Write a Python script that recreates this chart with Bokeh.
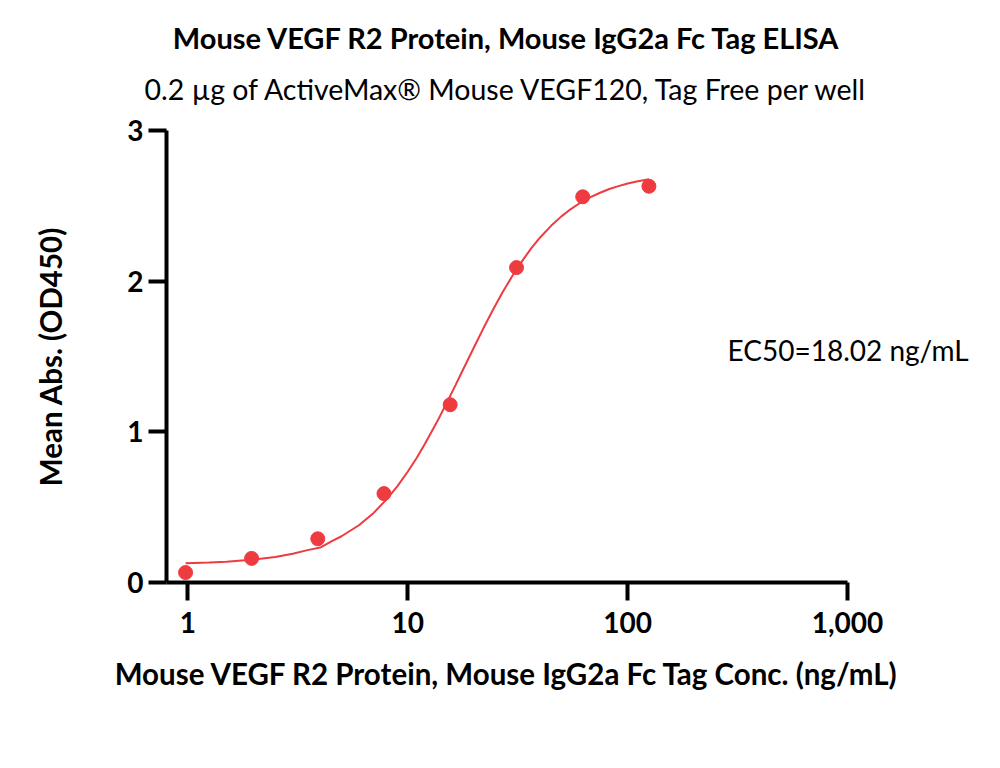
from bokeh.plotting import figure
from bokeh.models import Range1d, FixedTicker, NumeralTickFormatter, LinearAxis, Title
from bokeh.embed import file_html
from bokeh.resources import INLINE

# measured points
conc = [0.977, 1.95, 3.9, 7.8, 15.6, 31.25, 62.5, 125.0]
absorb = [0.066, 0.16, 0.29, 0.59, 1.18, 2.09, 2.56, 2.63]

# fitted curve
curve_x = [0.977, 1.25, 1.5, 2, 2.5, 3, 3.5, 4, 4.5, 5, 6, 7, 8, 9, 10, 11, 12, 13.5, 15, 16.5,
           18, 20, 22, 24.5, 27, 30, 33, 36.5, 40, 45, 50, 55, 60, 67, 75, 82, 90, 100, 110, 125]
curve_y = [0.128, 0.132, 0.138, 0.152, 0.169, 0.191, 0.215, 0.232, 0.273, 0.307, 0.380, 0.462,
           0.550, 0.641, 0.735, 0.828, 0.922, 1.058, 1.188, 1.310, 1.424, 1.560, 1.682, 1.814,
           1.926, 2.038, 2.130, 2.219, 2.290, 2.369, 2.430, 2.477, 2.514, 2.554, 2.587, 2.610,
           2.629, 2.648, 2.662, 2.677]

x_ticks = [1, 10, 100, 1000]
y_ticks = [0, 1, 2, 3]

title = "Mouse VEGF R2 Protein, Mouse IgG2a Fc Tag ELISA"
subtitle = "0.2 µg of ActiveMax® Mouse VEGF120, Tag Free per well"
x_label = "Mouse VEGF R2 Protein, Mouse IgG2a Fc Tag Conc. (ng/mL)"
y_label = "Mean Abs. (OD450)"
ec50_text = "EC50=18.02 ng/mL"
ec50_y = 1.54

FONT = "Lato"
RED = "#EE3B40"

p = figure(
    x_axis_type="log",
    frame_width=681, frame_height=452,
    min_border_left=166, min_border_right=140, min_border_top=130, min_border_bottom=160,
    x_range=Range1d(0.80, 1000), y_range=Range1d(0, 3),
    output_backend="svg", toolbar_location=None,
)
p.outline_line_color = None
p.xgrid.visible = False
p.ygrid.visible = False
p.background_fill_color = "white"
p.border_fill_color = "white"

for ax in (p.xaxis[0], p.yaxis[0]):
    ax.axis_line_width = 4
    ax.axis_line_color = "black"
    ax.major_tick_line_width = 4
    ax.major_tick_line_color = "black"
    ax.major_tick_out = 18
    ax.major_tick_in = 0
    ax.minor_tick_line_color = None
    ax.major_label_text_font = FONT
    ax.major_label_text_font_style = "bold"
    ax.major_label_text_font_size = "28px"
    ax.major_label_text_color = "black"
    ax.axis_label_text_font = FONT
    ax.axis_label_text_font_style = "bold"
    ax.axis_label_text_font_size = "29.5px"
    ax.axis_label_text_color = "black"

p.xaxis.ticker = FixedTicker(ticks=x_ticks)
p.xaxis.formatter = NumeralTickFormatter(format="0,0")
p.xaxis.major_label_standoff = 11
p.xaxis.axis_label = x_label
p.xaxis.axis_label_standoff = 20

p.yaxis.ticker = FixedTicker(ticks=y_ticks)
p.yaxis.major_label_standoff = 5
p.yaxis.axis_label = y_label
p.yaxis.axis_label_standoff = 56

# EC50 annotation carried by an invisible right axis
ec_axis = LinearAxis(
    ticker=FixedTicker(ticks=[ec50_y]),
    major_label_overrides={ec50_y: ec50_text},
    axis_line_color=None, major_tick_line_color=None, minor_tick_line_color=None,
    major_tick_out=0, major_tick_in=0,
    major_label_standoff=-120,
    major_label_text_font=FONT, major_label_text_font_size="28px",
    major_label_text_color="black",
)
p.add_layout(ec_axis, "right")

p.line(curve_x, curve_y, line_color=RED, line_width=2)
p.scatter(conc, absorb, size=14, fill_color=RED, line_color=RED)

p.add_layout(Title(text=subtitle, align="center", text_font=FONT, text_font_style="normal",
                   text_font_size="28.5px", text_color="black", standoff=50), "above")
p.add_layout(Title(text=title, align="center", text_font=FONT, text_font_style="bold",
                   text_font_size="29px", text_color="black", standoff=-20), "above")

open("out.html", "w").write(file_html(p, INLINE))
